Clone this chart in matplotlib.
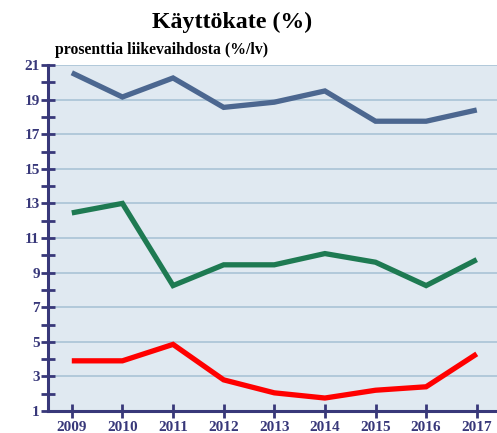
import matplotlib
matplotlib.use("Agg")
import matplotlib.pyplot as plt
from matplotlib.ticker import MultipleLocator

years = [2009, 2010, 2011, 2012, 2013, 2014, 2015, 2016, 2017]
blue_vals = [20.55, 19.15, 20.25, 18.55, 18.85, 19.5, 17.75, 17.75, 18.4]
green_vals = [12.45, 13.0, 8.25, 9.45, 9.45, 10.1, 9.6, 8.25, 9.75]
red_vals = [3.9, 3.9, 4.85, 2.8, 2.05, 1.75, 2.2, 2.4, 4.3]
y_ticks = [1, 3, 5, 7, 9, 11, 13, 15, 17, 19, 21]

axis_col = "#38387a"

fig = plt.figure(figsize=(4.97, 4.33), dpi=100)
ax = fig.add_axes([48 / 497, 22 / 433, 449 / 497, 346 / 433])
ax.set_facecolor("#e0e9f1")

for vals, col in [(blue_vals, "#4c6790"), (green_vals, "#1e7a52"), (red_vals, "#ff0000")]:
    ax.plot(years, vals, color=col, lw=3.8, solid_capstyle="butt", solid_joinstyle="miter", zorder=3)

ax.set_xlim(2008.53, 2017.4)
ax.set_ylim(1, 21)
ax.set_xticks(years)
ax.set_yticks(y_ticks)
ax.yaxis.set_minor_locator(MultipleLocator(1))
ax.grid(axis="y", which="major", color="#a9c3d6", lw=1.2, zorder=1)

for s in ["top", "right"]:
    ax.spines[s].set_visible(False)
for s in ["left", "bottom"]:
    ax.spines[s].set_color(axis_col)
    ax.spines[s].set_linewidth(2.2)

ax.tick_params(axis="both", which="both", direction="inout", color=axis_col, width=2, length=10)
ax.tick_params(axis="x", pad=2)
ax.tick_params(axis="y", pad=1)
for lab in ax.get_xticklabels() + ax.get_yticklabels():
    lab.set_fontfamily("Liberation Serif")
    lab.set_fontweight("bold")
    lab.set_fontsize(11)
    lab.set_color(axis_col)

fig.text(232 / 497, 1 - 22 / 433, "Käyttökate (%)", ha="center", va="center",
         fontfamily="Liberation Serif", fontweight="bold", fontsize=17.2)
fig.text(55 / 497, 1 - 50 / 433, "prosenttia liikevaihdosta (%/lv)", ha="left", va="center",
         fontfamily="Liberation Serif", fontweight="bold", fontsize=11.3)

fig.savefig("out.png", dpi=100)
